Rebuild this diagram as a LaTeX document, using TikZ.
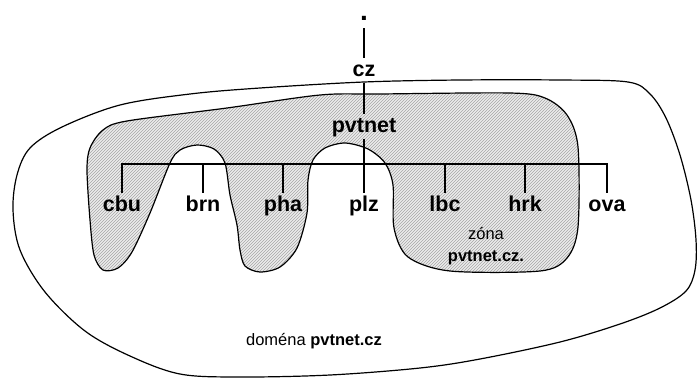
\documentclass[tikz,border=0pt]{standalone}
\usepackage{fontspec}
\setmainfont{Liberation Sans}
\usetikzlibrary{patterns}

\begin{document}
\begin{tikzpicture}[
        x=1pt, y=-1pt,
        uzel/.style={
            font=\bfseries\fontsize{21.5}{24}\selectfont,
            text height=16pt,
            text depth=4.5pt,
            inner sep=2pt,
            anchor=base
        },
        koren/.style={
            font=\bfseries\fontsize{28}{28}\selectfont,
            inner sep=0pt,
            anchor=base
        },
        popis/.style={
            font=\fontsize{16.5}{22}\selectfont,
            align=center
        },
        hrana/.style={line width=1.6pt},
        obrys/.style={line width=1.2pt},
        zona/.style={
            obrys,
            preaction={fill=gray!15},
            pattern=north east lines,
            pattern color=gray!70
        }
    ]
    \useasboundingbox (0,0) rectangle (698,378);

    % doména
    \draw[obrys] plot[smooth cycle, tension=0.55] coordinates {
        (120,105) (190,94) (260,88) (364,82) (460,80) (560,80) (628,82)
        (650,94) (666,118) (680,155) (691,200) (696,240) (695,270) (686,291)
        (660,308) (620,324) (560,342) (480,359) (420,368) (330,375)
        (240,377) (180,374) (130,356) (85,331) (45,292) (20,250) (13,210)
        (17,175) (30,148) (62,127)};

    % zóna
    \draw[zona] plot[smooth cycle, tension=0.5] coordinates {
        (127,121) (227,108) (320,95) (380,94) (510,93) (545,98) (567,115)
        (578,147) (578,227) (567,258) (540,271) (450,271) (408,257)
        (394,228) (393,185) (385,163) (368,149) (345,143) (325,148)
        (313,160) (308,180) (307,213) (297,248) (280,267) (260,272)
        (245,266) (240,250) (237,225) (230,195) (225,163) (214,149)
        (197,145) (180,150) (170,163) (150,213) (132,252) (118,268)
        (103,270) (94,255) (90,220) (87,170) (90,148) (103,130)};

    \node[koren] (root) at (364,20) {.};
    \node[uzel] (cz) at (364,76) {cz};
    \node[uzel] (pvtnet) at (364,132) {pvtnet};

    \node[uzel] (cbu) at (122,211) {cbu};
    \node[uzel] (brn) at (203,211) {brn};
    \node[uzel] (pha) at (283,211) {pha};
    \node[uzel] (plz) at (364,211) {plz};
    \node[uzel] (lbc) at (445,211) {lbc};
    \node[uzel] (hrk) at (525,211) {hrk};
    \node[uzel] (ova) at (607,211) {ova};

    \coordinate (pruh) at (364,164);

    \draw[hrana, shorten <=8pt] (root.base) -- (cz.north);
    \draw[hrana] (cz.south) -- (pvtnet.north);
    \draw[hrana] (pvtnet.south) -- (plz.north);
    \draw[hrana] (cbu.north) |- (pruh) -| (ova.north);
    \foreach \n in {brn,pha,lbc,hrk}
        \draw[hrana] (\n.north) -- (\n.north |- pruh);

    \node[popis] (zonatext) at (486,246) {zóna\\\textbf{pvtnet.cz.}};
    \node[popis, anchor=base] (domtext) at (314,345) {doména \textbf{pvtnet.cz}};
\end{tikzpicture}
\end{document}
